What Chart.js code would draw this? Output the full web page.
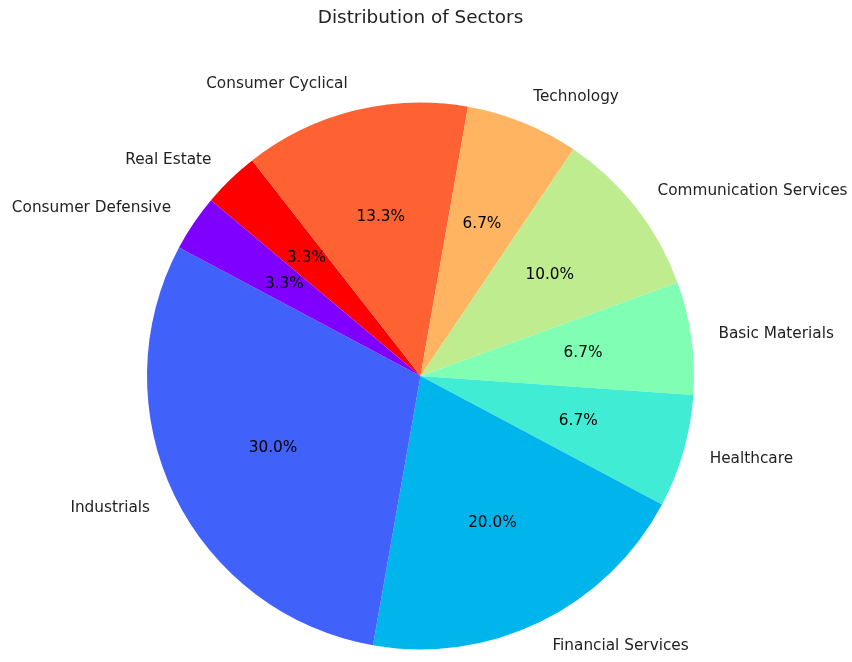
<!DOCTYPE html>
<html>
<head>
<meta charset="utf-8">
<script src="https://cdn.jsdelivr.net/npm/chart.js@4.4.1/dist/chart.umd.min.js"></script>
<style>
  html, body { margin: 0; padding: 0; background: #fff; }
  #wrap { width: 852px; height: 662px; }
</style>
</head>
<body>
<div id="wrap"><canvas id="sectorChart" width="852" height="662"></canvas></div>
<script>
// matplotlib draws counter-clockwise from 140deg; chart.js goes clockwise, so order is reversed
var sectors = ['Real Estate', 'Consumer Cyclical', 'Technology', 'Communication Services',
    'Basic Materials', 'Healthcare', 'Financial Services', 'Industrials', 'Consumer Defensive'];
var counts = [1, 4, 2, 3, 2, 2, 6, 9, 1];
var sectorColors = ['#ff0000', '#ff6232', '#ffb462', '#bfec8e',
    '#80ffb4', '#40ecd4', '#00b4ec', '#4062fa', '#8000ff'];

var FONT = "'DejaVu Sans', sans-serif";

// outside labels + percentages, placed from the arcs chart.js computed
var pieLabels = {
    id: 'pieLabels',
    afterDatasetsDraw: function (chart) {
        var ctx = chart.ctx;
        var arcs = chart.getDatasetMeta(0).data;
        var total = counts.reduce(function (a, b) { return a + b; }, 0);
        ctx.save();
        ctx.textBaseline = 'middle';
        ctx.font = '15.3px ' + FONT;
        arcs.forEach(function (arc, i) {
            var mid = (arc.startAngle + arc.endAngle) / 2;
            var r = arc.outerRadius;
            var cx = Math.cos(mid), cy = Math.sin(mid);

            ctx.fillStyle = '#222';
            ctx.textAlign = cx > 0 ? 'left' : 'right';
            ctx.fillText(sectors[i], arc.x + 1.1 * r * cx, arc.y + 1.1 * r * cy);

            ctx.fillStyle = '#000';
            ctx.textAlign = 'center';
            var pct = (counts[i] / total * 100).toFixed(1) + '%';
            ctx.fillText(pct, arc.x + 0.6 * r * cx, arc.y + 0.6 * r * cy);
        });
        ctx.restore();
    }
};

var ctx = document.getElementById('sectorChart').getContext('2d');

var sectorChart = new Chart(ctx, {
    type: 'pie',
    data: {
        labels: sectors,
        datasets: [
            {
                data: counts,
                backgroundColor: sectorColors,
                borderWidth: 0,
                hoverOffset: 0
            }
        ]
    },
    options: {
        responsive: false,
        animation: false,
        rotation: -50,
        layout: {
            padding: { left: 0, right: 11, top: 0, bottom: 12.5 }
        },
        plugins: {
            legend: { display: false },
            tooltip: { enabled: false },
            title: {
                display: true,
                text: 'Distribution of Sectors',
                color: '#222',
                font: { family: FONT, size: 18.4, weight: 'normal' },
                padding: { top: 7, bottom: 73.4 }
            }
        }
    },
    plugins: [pieLabels]
});
</script>
</body>
</html>
